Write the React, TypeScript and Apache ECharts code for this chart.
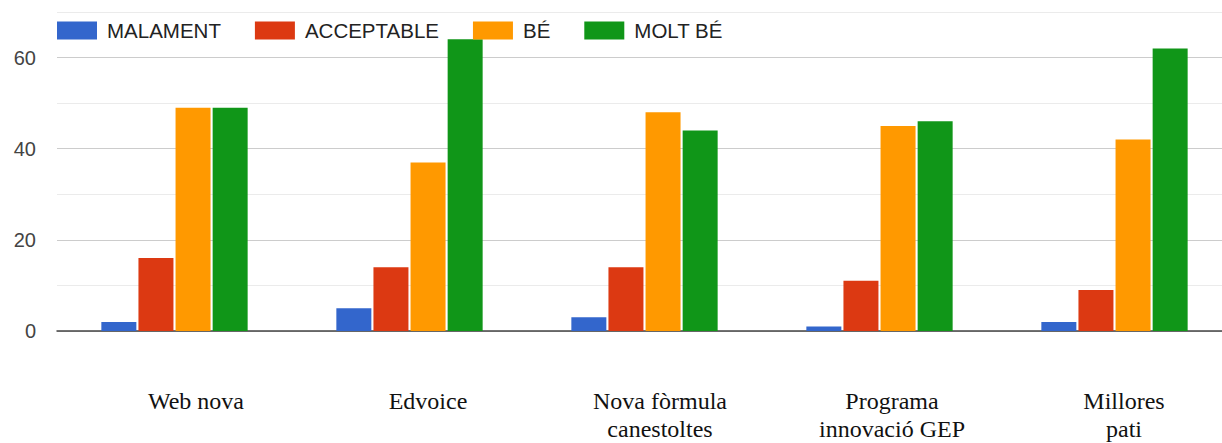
import React, { useEffect, useRef } from "react";
import * as echarts from "echarts";

const categories = [
  "Web nova",
  "Edvoice",
  "Nova fòrmula\ncanestoltes",
  "Programa\ninnovació GEP",
  "Millores\npati",
];
const seriesNames = ["MALAMENT", "ACCEPTABLE", "BÉ", "MOLT BÉ"];
const malament = [2, 5, 3, 1, 2];
const acceptable = [16, 14, 14, 11, 9];
const be = [49, 37, 48, 45, 42];
const moltBe = [49, 64, 44, 46, 62];
const yTickLabels = [0, 20, 40, 60];
const colors = ["#3366cc", "#dc3912", "#ff9900", "#109618"];

export default function App() {
  const ref = useRef<HTMLDivElement>(null);
  useEffect(() => {
    if (!ref.current) return;
    const chart = echarts.init(ref.current, null, { renderer: "svg" });
    const values = [malament, acceptable, be, moltBe];
    chart.setOption({
      animation: false,
      color: colors,
      legend: {
        left: 52,
        top: 15,
        itemWidth: 40,
        itemHeight: 18,
        itemGap: 34,
        icon: "rect",
        data: seriesNames,
        textStyle: {
          fontFamily: "Liberation Sans",
          fontSize: 20.5,
          color: "#222",
          padding: [0, 0, 0, 5],
        },
      },
      grid: [
        { left: 57, right: 8, top: 12, bottom: 112 },
        { left: 80, right: 0, top: 12, bottom: 112 },
      ],
      xAxis: [
        {
          type: "category",
          gridIndex: 0,
          data: categories,
          axisLine: { lineStyle: { color: "#444", width: 1.5 } },
          axisTick: { show: false },
          axisLabel: { show: false },
        },
        {
          type: "category",
          gridIndex: 1,
          data: categories,
          axisLine: { show: false },
          axisTick: { show: false },
          axisLabel: {
            interval: 0,
            margin: 59,
            fontFamily: "Liberation Serif",
            fontSize: 24,
            lineHeight: 28,
            color: "#111",
          },
        },
      ],
      yAxis: [
        {
          type: "value",
          gridIndex: 0,
          min: 0,
          max: 70,
          interval: 10,
          axisLine: { show: false },
          axisTick: { show: false },
          axisLabel: {
            margin: 21,
            fontFamily: "Liberation Sans",
            fontSize: 20,
            color: "#444",
            formatter: (v: number) =>
              yTickLabels.includes(v) ? String(v) : "",
          },
          splitLine: {
            lineStyle: { color: ["#cccccc", "#ebebeb"], width: 1 },
          },
        },
        {
          type: "value",
          gridIndex: 1,
          min: 0,
          max: 70,
          show: false,
        },
      ],
      series: seriesNames.map((name, i) => ({
        name,
        type: "bar",
        xAxisIndex: 0,
        yAxisIndex: 0,
        data: values[i],
        barWidth: 35,
        barGap: "6%",
        itemStyle: { color: colors[i] },
      })),
    });
    return () => chart.dispose();
  }, []);
  return (
    <div
      style={{
        position: "fixed",
        left: 0,
        top: 0,
        width: 1222,
        height: 443,
        overflow: "hidden",
        background: "#fff",
      }}
    >
      <div ref={ref} style={{ width: 1240, height: 443 }} />
    </div>
  );
}
